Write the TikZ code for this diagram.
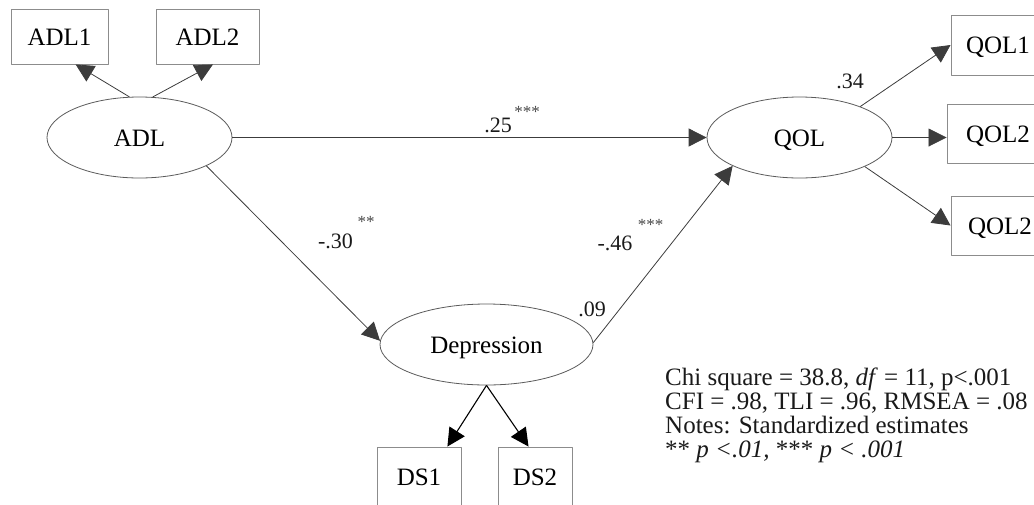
\documentclass[tikz,border=0pt]{standalone}
\usepackage{fontspec}
\setmainfont{Liberation Serif}
\usetikzlibrary{arrows.meta,shapes.geometric}
\definecolor{Ink}{HTML}{1A1A1A}
\definecolor{Edge}{HTML}{8C8C8C}
\definecolor{Rim}{HTML}{5A5A5A}
\definecolor{Wire}{HTML}{3C3C3C}
\tikzset{
  obs/.style={draw=Edge,line width=0.9pt,rectangle,minimum height=55pt,inner sep=0pt,text height=17pt,text depth=0pt,font=\fontsize{25}{30}\selectfont},
  lat/.style={draw=Rim,line width=0.8pt,ellipse,minimum height=81pt,inner sep=0pt,text height=17pt,text depth=0pt,font=\fontsize{25}{30}\selectfont},
  arr/.style={-{Triangle[length=18pt,width=18pt]},line width=0.8pt,draw=Wire},
  est/.style={font=\fontsize{22}{26}\selectfont,anchor=base,inner sep=0pt,text=Ink},
  sig/.style={font=\fontsize{17}{20}\selectfont,anchor=base,inner sep=0pt,text=Ink!80},
  fitline/.style={font=\fontsize{25}{30}\selectfont,anchor=base west,inner sep=0pt,text=Ink},
}

\begin{document}
\begin{tikzpicture}[x=1pt,y=-1pt,line join=round]
\useasboundingbox (0,0) rectangle (1034,504);
\node[obs,minimum width=97pt] (adl1) at (59.5,36.5) {ADL1};
\node[obs,minimum width=103pt] (adl2) at (207.5,36.5) {ADL2};
\node[lat,minimum width=185pt] (adl) at (139.5,137.5) {ADL};
\node[lat,minimum width=185pt] (qol) at (799.5,137.5) {QOL};
\node[lat,minimum width=213pt] (dep) at (486.5,344.5) {Depression};
\node[obs,minimum width=94pt,minimum height=60pt] (qol1) at (998,45) {QOL1};
\node[obs,minimum width=102pt,minimum height=59pt] (qol2) at (998,134) {QOL2};
\node[obs,minimum width=98pt,minimum height=59pt] (qol3) at (1000,225.5) {QOL2};
\node[obs,minimum width=84pt,minimum height=60pt] (ds1) at (419,477) {DS1};
\node[obs,minimum width=74pt,minimum height=60pt] (ds2) at (535,477) {DS2};
\draw[arr] (adl.104) -- (adl1.-60);
\draw[arr] (adl.72) -- (adl2.-79);
\draw[arr] (adl.east) -- (qol.west);
\draw[arr] (adl.-23) -- (dep.178);
\draw[arr] (dep.1) -- (qol.203);
\draw[arr] (qol.27) -- (qol1.west);
\draw[arr] (qol.east) -- (qol.east -| qol2.west);
\draw[arr] (qol.-24) -- (qol3.west);
\draw[arr,draw=black,line width=1.1pt] (dep.south) -- (ds1.47);
\draw[arr,draw=black,line width=1.1pt] (dep.south) -- (ds2.102);
\node[est] (e25) at (498,132) {.25};
\node[sig] (s25) at (527,117) {***};
\node[est] (e34) at (850,88) {.34};
\node[est] (e30) at (335.5,248) {-.30};
\node[sig] (s30) at (366,227) {**};
\node[est] (e46) at (615,250) {-.46};
\node[sig] (s46) at (650.5,230) {***};
\node[est] (e09) at (592,316) {.09};
\node[fitline] (fit1) at (665,385) {Chi square = 38.8, \textit{df} = 11, p<.001};
\node[fitline] (fit2) at (665,409) {CFI = .98, TLI = .96, RMSEA = .08};
\node[fitline] (fit3) at (665,433) {Notes: Standardized estimates};
\node[fitline] (fit4) at (665,457) {** \textit{p <.01,} *** \textit{p < .001}};
\end{tikzpicture}
\end{document}
